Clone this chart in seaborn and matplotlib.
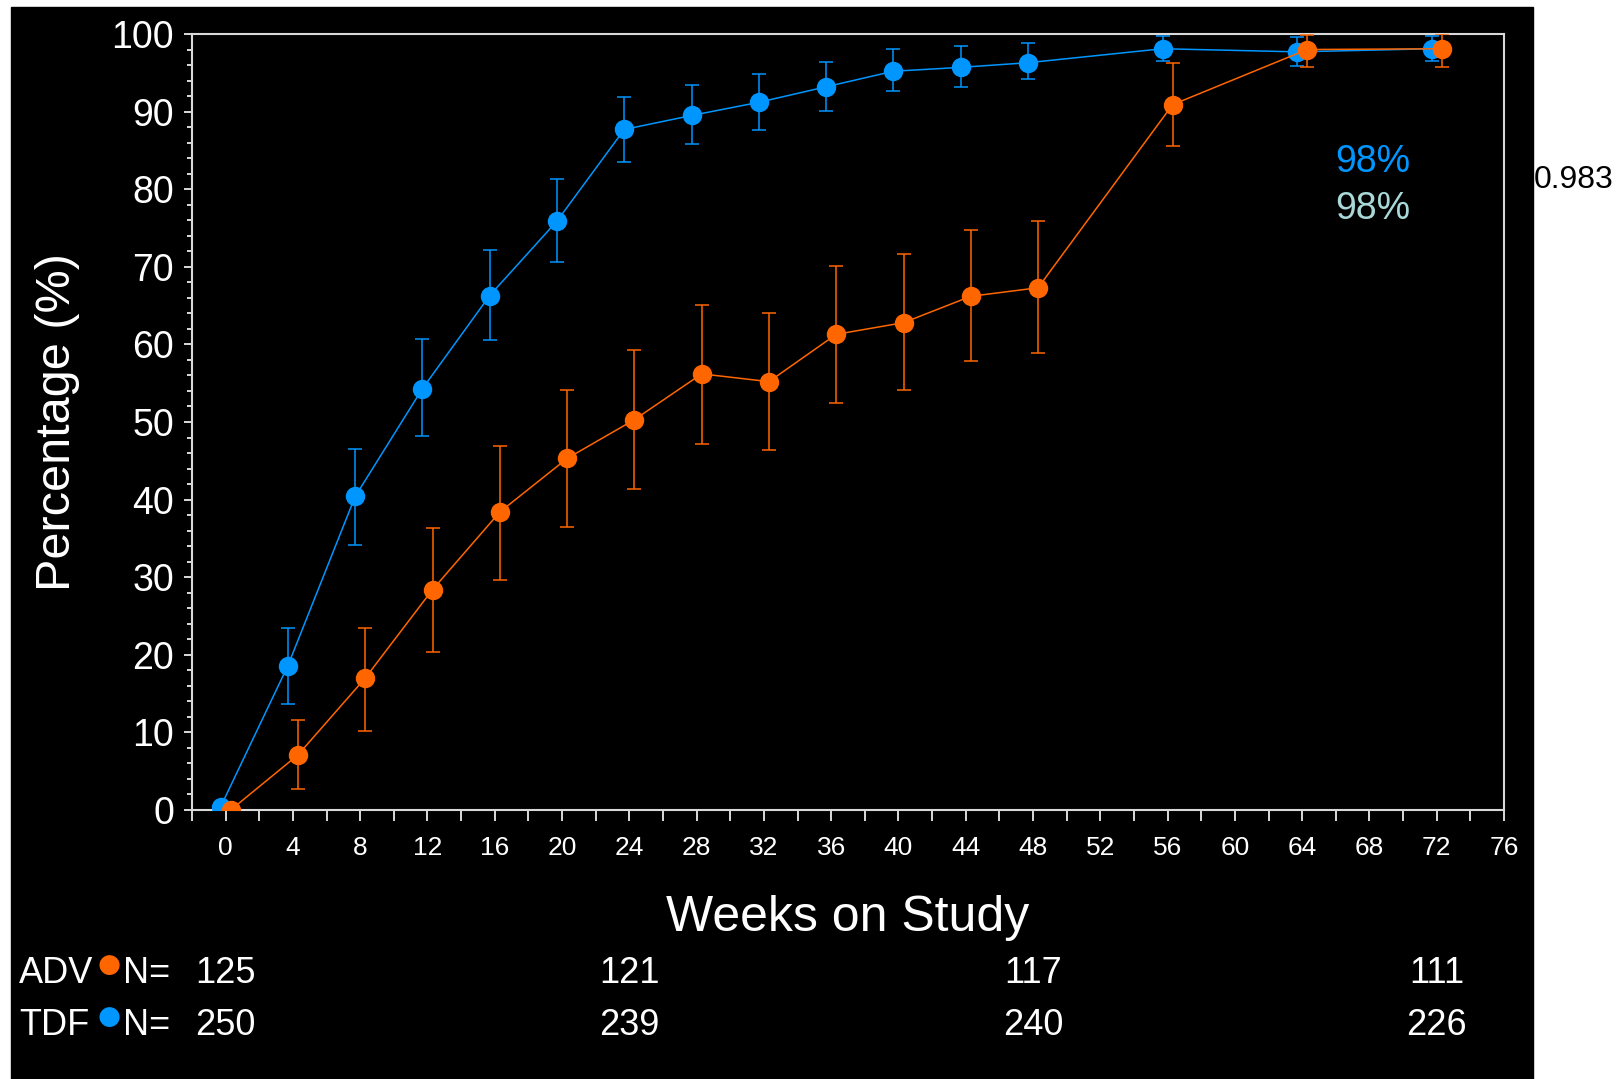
import matplotlib
matplotlib.use('Agg')
import matplotlib.pyplot as plt
import matplotlib.patches as mpatches
import matplotlib.transforms as mtransforms
import seaborn as sns
import numpy as np
import pandas as pd

# data
weeks = [0, 4, 8, 12, 16, 20, 24, 28, 32, 36, 40, 44, 48, 56, 64, 72]
tdf_pct = [0.4, 18.6, 40.4, 54.3, 66.3, 75.9, 87.7, 89.5, 91.2, 93.2, 95.2, 95.7, 96.3, 98.1, 97.7, 98.1]
tdf_lo = [0.4, 13.7, 34.2, 48.2, 60.6, 70.6, 83.5, 85.8, 87.6, 90.1, 92.6, 93.2, 94.2, 96.5, 95.9, 96.5]
tdf_hi = [0.4, 23.5, 46.5, 60.7, 72.2, 81.3, 91.9, 93.4, 94.8, 96.4, 98.1, 98.5, 98.8, 99.8, 99.6, 99.7]
adv_pct = [0.0, 7.1, 17.0, 28.4, 38.4, 45.3, 50.3, 56.2, 55.2, 61.3, 62.8, 66.2, 67.3, 90.9, 98.0, 98.1]
adv_lo = [0.0, 2.7, 10.2, 20.3, 29.7, 36.5, 41.4, 47.2, 46.4, 52.5, 54.1, 57.9, 58.9, 85.6, 95.7, 95.7]
adv_hi = [0.0, 11.6, 23.5, 36.3, 46.9, 54.1, 59.3, 65.1, 64.0, 70.1, 71.6, 74.7, 75.9, 96.3, 99.9, 100.0]

n_weeks = [0, 24, 48, 72]
adv_n = [125, 121, 117, 111]
tdf_n = [250, 239, 240, 226]

BLUE = '#0096ff'
ORANGE = '#ff6600'
TEAL = '#a8d8d8'

sns.set_theme(style='ticks')
plt.rcParams['font.family'] = ['Liberation Sans', 'DejaVu Sans']

W, H = 1619, 1079
fig = plt.figure(figsize=(W / 100, H / 100), dpi=100, facecolor='white')
# black slide area
fig.patches.append(mpatches.Rectangle((11 / W, 0), (1533 - 11) / W, 1 - 7 / H,
                                      transform=fig.transFigure, color='black', zorder=-10))

ax = fig.add_axes([192 / W, 1 - 810 / H, (1504 - 192) / W, (810 - 34) / H])
ax.set_facecolor('black')

df = pd.DataFrame({
    'week': weeks * 2,
    'pct': tdf_pct + adv_pct,
    'arm': ['TDF'] * len(weeks) + ['ADV'] * len(weeks),
})
df['x'] = df['week'] + np.where(df['arm'] == 'TDF', -0.3, 0.3)

z = 2
for arm, col, lo, hi in [('TDF', BLUE, tdf_lo, tdf_hi), ('ADV', ORANGE, adv_lo, adv_hi)]:
    d = df[df['arm'] == arm]
    y = d['pct'].values
    ax.errorbar(d['x'], y, yerr=[y - np.array(lo), np.array(hi) - y], fmt='none',
                ecolor=col, elinewidth=1.1, capsize=5, capthick=1.1, zorder=z)
    sns.lineplot(data=d, x='x', y='pct', color=col, marker='o', markersize=14,
                 markeredgewidth=0, linewidth=1.1, ax=ax, zorder=z + 1)
    z += 2

ax.set_xlim(-2, 76)
ax.set_ylim(0, 100)
ax.set_xticks(np.arange(0, 77, 4))
ax.set_xticks(np.arange(-2, 77, 2), minor=True)
ax.set_yticks(np.arange(0, 101, 10))
ax.set_yticks(np.arange(0, 101, 2), minor=True)
ax.tick_params(axis='x', which='both', direction='out', length=8, width=1.2,
               color='white', labelcolor='white', labelsize=19, pad=11)
ax.tick_params(axis='y', which='major', direction='out', length=6, width=1.2,
               color='white', labelcolor='white', labelsize=27, pad=7)
ax.tick_params(axis='y', which='minor', direction='out', length=3.5, width=1.2, color='white')
for s in ax.spines.values():
    s.set_color('#d8d8d8')
    s.set_linewidth(1.5)

ax.set_xlabel('Weeks on Study', color='white', fontsize=36, va='baseline')
ax.xaxis.set_label_coords(0.5, (810 - 931) / 776)
ax.set_ylabel('Percentage (%)', color='white', fontsize=35, va='center')
ax.yaxis.set_label_coords((58 - 192) / 1312, 0.5)

ax.text(68.2, 83.5, '98%', color=BLUE, fontsize=27, ha='center', va='center')
ax.text(68.2, 77.4, '98%', color=TEAL, fontsize=27, ha='center', va='center')
fig.text(1534 / W, 1 - 180 / H, '0.983', color='black', fontsize=23, ha='left', va='center')

# patients at risk table
wk_fig = mtransforms.blended_transform_factory(ax.transData, fig.transFigure)
rows = [('ADV', ORANGE, adv_n, 983, 965), ('TDF', BLUE, tdf_n, 1035, 1017)]
for name, col, ns, base, dot_y in rows:
    fig.text(19 / W, 1 - base / H, name, color='white', fontsize=26, va='baseline')
    fig.text(109 / W, 1 - dot_y / H, '\u25cf', color=col, fontsize=19,
             ha='center', va='center', family=['DejaVu Sans'])
    fig.text(123 / W, 1 - base / H, 'N=', color='white', fontsize=26, va='baseline')
    for wk, n in zip(n_weeks, ns):
        ax.text(wk, 1 - base / H, str(n), color='white', fontsize=26, ha='center',
                va='baseline', clip_on=False, transform=wk_fig)

fig.savefig('out.png', dpi=100, facecolor=fig.get_facecolor())
